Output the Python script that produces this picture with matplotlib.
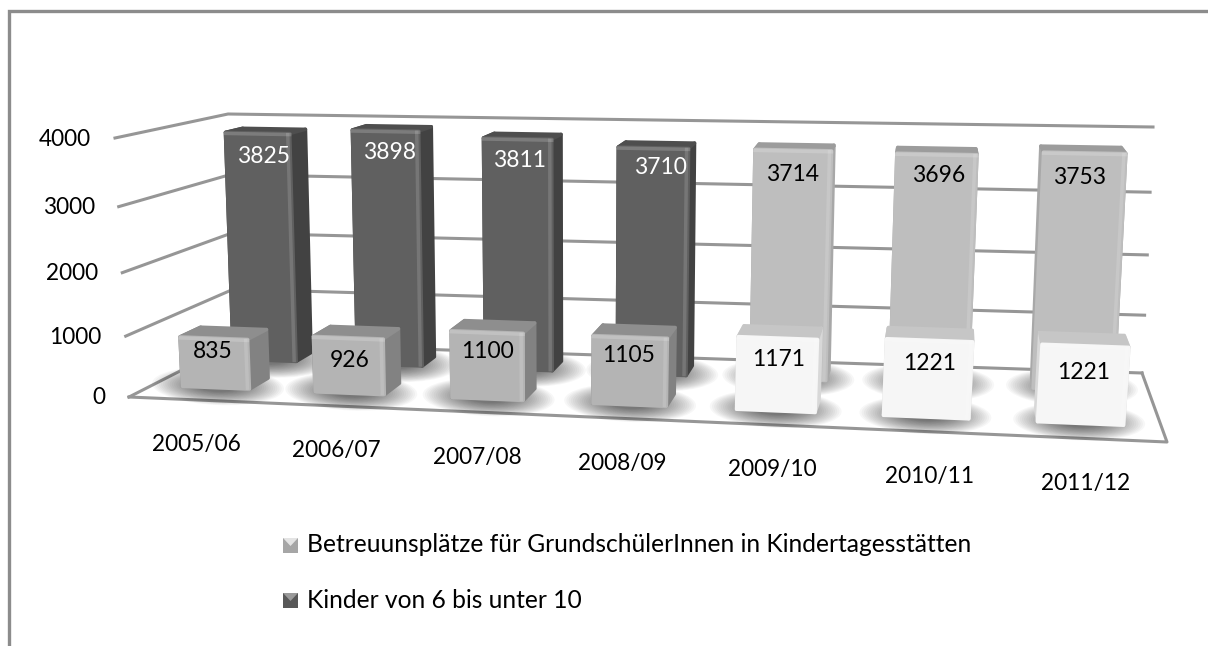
import matplotlib
matplotlib.use('Agg')
import matplotlib.pyplot as plt
from matplotlib.patches import Polygon, Rectangle, Ellipse
import numpy as np

plt.rcParams['font.family'] = ['Lato', 'DejaVu Sans']

categories = ['2005/06', '2006/07', '2007/08', '2008/09', '2009/10', '2010/11', '2011/12']
kinder = [3825, 3898, 3811, 3710, 3714, 3696, 3753]
plaetze = [835, 926, 1100, 1105, 1171, 1221, 1221]
y_ticks = [0, 1000, 2000, 3000, 4000]
legend_labels = ['Betreuunsplätze für GrundschülerInnen in Kindertagesstätten', 'Kinder von 6 bis unter 10']

# (front, side, top) greys of each bar, the chart recolours single points
DARK = ('#606060', '#424242', '#4e4e4e')
MID = ('#b4b4b4', '#828282', '#8e8e8e')
PALE = ('#bebebe', '#a8a8a8', '#9c9c9c')
WHITE = ('#f6f6f6', '#d8d8d8', '#c6c6c6')
kinder_colors = [DARK, DARK, DARK, DARK, PALE, PALE, PALE]
plaetze_colors = [MID, MID, MID, MID, WHITE, WHITE, WHITE]
kinder_text = ['white', 'white', 'white', 'white', 'black', 'black', 'black']
# the recoloured bars look a little wider
kinder_grow = [0, 0, 0, 0, 0.015, 0.02, 0.02]
plaetze_grow = [0, 0, 0, 0, 0.01, 0.025, 0.02]

# the 3d box of the plot in pixels, f/b front/back, l/r left/right, 0/1 bottom/top
flb = np.array([129., 397.])
frb = np.array([1167., 442.])
blb = np.array([235., 343.])
brb = np.array([1142., 373.])
flt = np.array([115., 138.])
frt = np.array([1189., 164.])
blt = np.array([228., 114.])
brt = np.array([1153., 127.])


def project(x, v, d):
    u = x / 7.0
    u = u - 0.10 * u * (1 - u)
    t = v / 4000.0
    t = t * (1 - 0.08 * (1 - t))
    front = (1 - u) * ((1 - t) * flb + t * flt) + u * ((1 - t) * frb + t * frt)
    back = (1 - u) * ((1 - t) * blb + t * blt) + u * ((1 - t) * brb + t * brt)
    return (1 - d) * front + d * back


def face(ax, pts, color, z):
    ax.add_patch(Polygon(pts, closed=True, facecolor=color, edgecolor=color, lw=2.5,
                         joinstyle='round', zorder=z))


def shadow(ax, i, d, z):
    c = project(i + 0.48, 0, d)
    for s in np.linspace(1.0, 0.3, 22):
        ax.add_patch(Ellipse(c, 132 * s, 38 * s, angle=2.5, facecolor='black', edgecolor='none',
                             alpha=0.032, zorder=z))


def bar(ax, i, v, d0, d1, colors, grow, z):
    x0 = i + 0.23 - grow
    x1 = i + 0.74 + grow
    fl0, fr0 = project(x0, 0, d0), project(x1, 0, d0)
    fl1, fr1 = project(x0, v, d0), project(x1, v, d0)
    bl0, br0 = project(x0, 0, d1), project(x1, 0, d1)
    bl1, br1 = project(x0, v, d1), project(x1, v, d1)
    face(ax, [br0, fr0, fr1, br1], colors[1], z)
    face(ax, [bl0, fl0, fl1, bl1], colors[1], z)
    face(ax, [fl1, fr1, br1, bl1], colors[2], z + 0.1)
    face(ax, [fl0, fr0, fr1, fl1], colors[0], z + 0.2)
    # soft bevel along the front edges
    ax.plot([fl1[0], fr1[0]], [fl1[1] + 1, fr1[1] + 1], color='white', alpha=0.18, lw=2.5, zorder=z + 0.3)
    ax.plot([fr1[0] - 2, fr0[0] - 2], [fr1[1] + 1, fr0[1] - 1], color='white', alpha=0.14, lw=2.5, zorder=z + 0.3)


fig = plt.figure(figsize=(12.08, 6.46), dpi=100)
ax = fig.add_axes([0, 0, 1, 1])
ax.set_xlim(0, 1208)
ax.set_ylim(646, 0)
ax.axis('off')

# outer chart frame, open on the right and at the bottom
ax.plot([9, 9, 1208], [646, 11, 11], color='#8c8c8c', lw=2.4, zorder=1, solid_joinstyle='miter')

# walls and floor
grid = '#969696'
for v in y_ticks:
    a, b, c = project(0, v, 0), project(0, v, 1), project(7, v, 1)
    ax.plot([a[0], b[0], c[0]], [a[1], b[1], c[1]], color=grid, lw=2.2, zorder=2, solid_joinstyle='round')
    ax.text(a[0] - 24, a[1] + 1, str(v), ha='right', va='center', fontsize=16.3, color='black', zorder=9)
a, b, c = project(0, 0, 0), project(7, 0, 0), project(7, 0, 1)
ax.plot([a[0], b[0], c[0]], [a[1], b[1], c[1]], color=grid, lw=2.2, zorder=2)

# back row, then front row
for i, v in enumerate(kinder):
    shadow(ax, i, 0.75, 3)
    bar(ax, i, v, 0.72, 0.88, kinder_colors[i], kinder_grow[i], 4)
for i, v in enumerate(plaetze):
    shadow(ax, i, 0.25, 5)
    bar(ax, i, v, 0.22, 0.42, plaetze_colors[i], plaetze_grow[i], 6)

# labels sit a bit off in the original, small per-label shifts
kinder_nudge = [(7.5, 4), (6, 2), (4.5, 2), (9.5, 0), (1.5, 4), (4.5, 2), (-3, 5)]
plaetze_nudge = [(1, -17), (3.5, -7), (3, -10), (1, -11), (3.5, -8.5), (2, -7), (1, -3)]
for i, v in enumerate(kinder):
    p = project(i + 0.47, v, 0.72)
    ax.text(p[0] + kinder_nudge[i][0], p[1] + 20 + kinder_nudge[i][1], str(v), ha='center', va='center',
            fontsize=16.5, color=kinder_text[i], zorder=9)
for i, v in enumerate(plaetze):
    p = project(i + 0.47, v, 0.22)
    ax.text(p[0] + plaetze_nudge[i][0], p[1] + 30 + plaetze_nudge[i][1], str(v), ha='center', va='center',
            fontsize=16.5, color='black', zorder=9)

cat_nudge = [0.5, 2, 1, 0, 0, 2, 0]
for i, c in enumerate(categories):
    p = project(i + 0.5, 0, 0)
    ax.text(p[0] + cat_nudge[i], p[1] + 45, c, ha='center', va='center', fontsize=16.3, color='black', zorder=9)

# legend
for label, y, base, light in zip(legend_labels, [545, 600], ['#a6a6a6', '#585858'], ['#e4e4e4', '#9a9a9a']):
    ax.add_patch(Rectangle((283, y - 7), 15, 15, facecolor=base, edgecolor='none', zorder=8))
    ax.add_patch(Polygon([(283, y - 7), (298, y - 7), (290.5, y + 1)], closed=True, facecolor=light, edgecolor='none', zorder=8))
    ax.text(307, y, label, ha='left', va='center', fontsize=17.7, color='black', zorder=9)

plt.savefig('out.png', dpi=100)
